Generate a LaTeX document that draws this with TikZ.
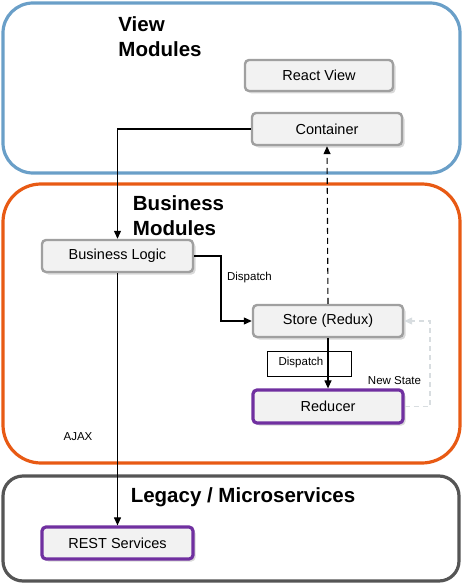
\documentclass[tikz,border=0pt]{standalone}
\usepackage{fontspec}
\setmainfont{Liberation Sans}
\usetikzlibrary{arrows.meta,shadows,calc}
\definecolor{viewblue}{HTML}{6A9FC8}
\definecolor{bizorange}{HTML}{E85A14}
\definecolor{legacygray}{HTML}{555555}
\definecolor{boxpurple}{HTML}{7030A0}
\definecolor{nodefill}{HTML}{F2F2F2}
\definecolor{nodeborder}{HTML}{A0A0A0}
\definecolor{lightdash}{HTML}{D8DDE0}
\tikzset{
  x=1pt, y=-1pt,
  group/.style={line width=3.2pt, rounded corners=#1},
  grouptitle/.style={font=\fontsize{20.5}{25}\selectfont\bfseries, align=left, inner sep=0pt},
  comp/.style={rectangle, rounded corners=4pt, draw=nodeborder, line width=2.4pt, fill=nodefill,
    minimum width=150pt, minimum height=32pt, inner sep=0pt, font=\fontsize{14.5}{16}\selectfont,
    drop shadow={shadow xshift=2.5pt, shadow yshift=-2.5pt, opacity=0.3}},
  purplecomp/.style={comp, draw=boxpurple, line width=3.2pt},
  arr/.style={line width=1.1pt, -{Triangle[length=8pt,width=7pt]}},
  small/.style={font=\fontsize{11.5}{13}\selectfont, inner sep=0pt},
}
\begin{document}
\begin{tikzpicture}
\useasboundingbox (0,0) rectangle (463,583);
% groups
\draw[group=30pt, draw=viewblue] (3,3) rectangle (460,173);
\draw[group=38pt, draw=bizorange] (3,184) rectangle (460,463);
\draw[group=20pt, draw=legacygray] (3,476) rectangle (459,581);
% titles
\node[grouptitle] (tview) at (160,36.5) {View\\Modules};
\node[grouptitle] (tbiz) at (178.5,215.5) {Business\\Modules};
\node[grouptitle] (tleg) at (243,497) {Legacy / Microservices};
% components
\node[comp, minimum width=148pt, minimum height=31pt] (rv) at (319,75.5) {React View};
\node[comp] (cont) at (327,129) {Container};
\node[comp, minimum width=151pt] (bl) at (117.5,256) {Business Logic};
\node[comp] (st) at (328,321) {Store (Redux)};
\node[purplecomp, minimum height=33pt] (red) at (328,406.5) {Reducer};
\node[purplecomp, minimum width=151pt] (rest) at (117.5,543) {REST Services};
% dispatch box
\node[draw=black, line width=0.9pt, minimum width=84pt, minimum height=25pt, inner sep=0pt] (dbox) at (309,363.5) {};
\node[small] (dtxt) at (301,363) {Dispatch};
% connectors
\draw[arr] (cont.west) -| (bl.north);
\coordinate (d1) at (221,256);
\draw[arr] (bl.east) -- (d1) |- (st.west);
\draw[arr] (bl.south) -- (rest.north);
\draw[arr] (st.south) -- (red.north);
\draw[arr, dash pattern=on 6pt off 4pt] (st.north) -- (cont.south);
\coordinate (ns) at (430,406.5);
\draw[line width=1.1pt, draw=lightdash, dash pattern=on 5pt off 4pt, -{Triangle[length=8pt,width=7pt]}] (red.east) -- (ns) |- (st.east);
% labels
\node[small] (ldisp) at (249.5,278) {Dispatch};
\node[small] (lns) at (394.5,381) {New State};
\node[small] (lajax) at (78,437) {AJAX};
\end{tikzpicture}
\end{document}
